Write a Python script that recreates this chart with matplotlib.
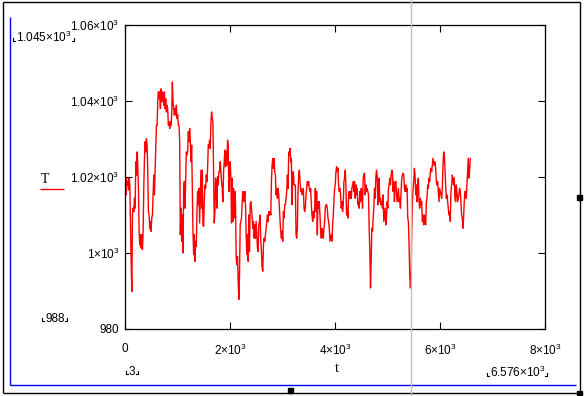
import matplotlib

matplotlib.use("Agg")
import matplotlib.pyplot as plt
from matplotlib.lines import Line2D
from matplotlib.patches import Rectangle
import numpy as np

# picture size in pixels (dpi 100)
W, H = 585, 396

# T(t), left to right, evenly spaced in t
T_PART1 = [
    1017.9, 1015.3, 1019.7, 1017.9, 1018.8, 1016.6, 1019.7, 1017.9, 1007.4, 997.8,
    989.9, 1010.0, 1011.8, 1010.9, 1014.4, 1011.8, 1024.0, 1020.5, 1026.6, 1023.1,
    1017.0, 1005.7, 1002.2, 1004.8, 1001.3, 1004.8, 1000.9, 1005.7, 1017.0, 1024.9,
    1029.3, 1026.6, 1030.1, 1028.4, 1021.4, 1010.9, 1010.0, 1006.5, 1008.3, 1005.7,
    1009.2, 1010.0, 1015.3, 1020.5, 1015.3, 1021.4, 1028.4, 1033.6, 1033.6, 1039.8,
    1042.4, 1040.6, 1042.4, 1038.0, 1043.2, 1039.8, 1042.4, 1041.5, 1038.9, 1042.4,
    1038.0, 1040.6, 1037.1, 1038.9, 1038.0, 1033.6, 1034.5, 1032.8, 1034.5, 1033.6,
    1036.3, 1045.0, 1039.8, 1038.0, 1036.3, 1038.0, 1036.3, 1038.9, 1035.4, 1036.3,
    1033.6, 1033.6, 1029.3,
]
T_PART2 = [
    1004.8, 1011.8, 1003.1, 1010.0, 1000.0, 1017.0, 1018.8, 1011.8, 1018.8, 1026.6,
    1025.8, 1026.6, 1031.9, 1029.3, 1032.8, 1029.3, 1024.0, 1028.4, 1016.2, 1005.7,
    999.6, 1004.8, 997.8, 1003.1, 1001.7, 1010.9, 1016.2, 1012.7, 1017.0, 1007.9,
    1015.3, 1021.8, 1011.8, 1021.8, 1007.4, 1007.0, 1013.5, 1017.9, 1017.0, 1020.5,
    1018.8, 1022.3, 1028.4, 1028.0, 1029.7, 1027.5, 1034.5, 1037.1, 1035.4, 1034.5,
    1020.5, 1007.9, 1010.9, 1019.7, 1017.9, 1011.8, 1020.1, 1017.9, 1021.4, 1021.4,
    1024.0, 1021.4, 1018.8, 1017.0, 1013.5, 1021.4, 1024.0, 1027.1, 1022.7, 1026.6,
    1023.1, 1029.7, 1028.0, 1016.2, 1021.4, 1024.0, 1019.7, 1007.9, 1019.7, 1008.3,
    1017.0, 1009.2, 1016.2, 1012.7, 998.7, 996.9, 999.1,
]
T_PART3 = [
    992.6, 987.8, 994.3, 1007.4, 1008.3, 1009.2, 1013.5, 1016.2, 1013.5, 1014.4,
    1016.2, 1012.7, 1004.8, 999.6, 1004.8, 997.8, 1010.0, 1000.4, 1012.7, 1013.5,
    1011.8, 1009.2, 1006.5, 1008.3, 1003.9, 1007.4, 1003.9, 1008.3, 1004.8, 1001.3,
    1000.4, 1007.4, 1008.3, 1010.0, 1003.1, 1000.4, 996.1, 995.2, 1002.2, 1003.9,
    1003.1, 1004.8, 1006.5, 1008.3, 1010.0, 1008.3, 1010.9, 1010.0, 1010.9, 1010.0,
    1018.8, 1023.1, 1024.9, 1022.3, 1024.9, 1021.4, 1020.5, 1015.3, 1017.0, 1014.4,
    1017.0, 1015.3, 1011.8, 1008.3, 1005.7, 1003.9, 1005.7, 1003.1, 1010.9, 1009.2,
    1012.7, 1012.7, 1014.4, 1016.2, 1020.5, 1017.0, 1026.6, 1025.8, 1027.5, 1024.0,
    1024.9, 1012.7, 1020.5, 1021.4, 1017.9, 1017.9, 1017.9,
]
T_PART4 = [
    1004.8, 1003.9, 1006.5, 1016.2, 1020.5, 1021.8, 1018.8, 1016.2, 1017.0, 1015.3,
    1016.2, 1017.0, 1011.8, 1010.9, 1011.8, 1015.3, 1017.0, 1018.8, 1017.9, 1018.8,
    1017.0, 1016.2, 1017.0, 1012.7, 1010.0, 1008.3, 1010.9, 1009.2, 1011.8, 1017.0,
    1010.9, 1016.2, 1004.8, 1013.5, 1011.8, 1013.5, 1010.0, 1005.7, 1003.9, 1006.5,
    1005.7, 1003.9, 1006.5, 1008.3, 1011.8, 1012.7, 1012.7, 1011.8, 1009.2, 1008.3,
    1006.5, 1003.1, 1003.9, 1004.8, 1003.1, 1007.4, 1010.0, 1013.5, 1017.0, 1017.9,
    1021.4, 1022.7, 1021.4, 1022.3, 1017.9, 1016.2, 1017.0, 1015.3, 1011.8, 1013.5,
    1010.9, 1012.7, 1018.8, 1019.7, 1021.8, 1017.9, 1010.0, 1011.8, 1009.2, 1015.3,
    1016.2, 1014.4, 1016.2, 1014.4, 1017.0, 1017.9, 1018.8,
]
T_PART5 = [
    1016.2, 1018.8, 1014.4, 1017.9, 1015.3, 1017.0, 1012.7, 1013.5, 1011.8, 1016.2,
    1013.5, 1017.0, 1016.2, 1011.8, 1019.7, 1020.5, 1021.0, 1015.3, 1017.9, 1016.2,
    1017.0, 1016.2, 1015.3, 1006.5, 1000.4, 990.8, 997.8, 1006.5, 1005.7, 1009.2,
    1011.8, 1017.0, 1014.4, 1019.7, 1021.8, 1020.5, 1012.7, 1018.8, 1019.7, 1013.5,
    1014.4, 1012.7, 1013.5, 1011.8, 1015.3, 1008.3, 1010.0, 1011.8, 1007.4, 1009.2,
    1013.5, 1011.8, 1017.0, 1017.9, 1019.7, 1017.9, 1020.5, 1021.8, 1021.4, 1016.2,
    1018.8, 1013.5, 1017.9, 1018.8, 1016.2, 1013.5, 1015.3, 1017.0, 1013.5, 1014.4,
    1011.8, 1016.2, 1019.7, 1020.5, 1021.0, 1020.5, 1017.0, 1016.2, 1017.9, 1016.2,
    1017.0, 1009.2, 1008.3, 1002.2, 994.3, 990.8, 992.6,
]
T_PART6 = [
    1006.1, 1013.5, 1017.0, 1018.8, 1022.3, 1020.5, 1015.3, 1017.9, 1013.5, 1018.8,
    1019.7, 1013.5, 1011.8, 1014.4, 1012.7, 1013.5, 1008.3, 1010.0, 1007.4, 1010.0,
    1008.3, 1007.4, 1013.5, 1014.4, 1017.9, 1017.0, 1019.7, 1018.8, 1021.4, 1022.3,
    1021.4, 1023.1, 1024.9, 1024.0, 1023.1, 1024.0, 1022.3, 1018.8, 1017.9, 1018.8,
    1016.2, 1013.5, 1017.0, 1016.2, 1015.3, 1014.4, 1017.0, 1023.1, 1026.6, 1025.8,
    1022.3, 1017.9, 1014.4, 1015.3, 1013.5, 1011.8, 1010.0, 1010.9, 1008.3, 1016.2,
    1017.9, 1020.5, 1019.7, 1017.9, 1019.7, 1014.4, 1013.5, 1017.9, 1016.2, 1013.5,
    1014.4, 1015.3, 1017.0, 1016.2, 1013.5, 1010.0, 1009.2, 1006.5, 1009.2, 1013.5,
    1016.2, 1016.2, 1014.4, 1017.9, 1021.4, 1024.9, 1019.7, 1021.4, 1024.9,
]
T_VALUES = T_PART1 + T_PART2 + T_PART3 + T_PART4 + T_PART5 + T_PART6

# range variable t := 3 .. 6576
T_FIRST = 3
T_LAST = 6576

X_TICKS = [0, 2000, 4000, 6000, 8000]
X_TICK_LABELS = ["0", "2×10$^3$", "4×10$^3$", "6×10$^3$", "8×10$^3$"]
Y_TICKS = [980, 1000, 1020, 1040, 1060]
Y_TICK_LABELS = ["980", "1×10$^3$", "1.02×10$^3$", "1.04×10$^3$", "1.06×10$^3$"]

plt.rcParams["font.family"] = ["Liberation Sans", "DejaVu Sans"]
plt.rcParams["mathtext.fontset"] = "custom"
plt.rcParams["mathtext.rm"] = "Liberation Sans"
plt.rcParams["mathtext.it"] = "Liberation Sans"
plt.rcParams["mathtext.default"] = "regular"
FS = 8.5


def fx(x):
    return x / W


def fy(y):
    return 1 - y / H


def hline(fig, x0, x1, y, color="black", lw=1.0):
    fig.add_artist(Line2D([fx(x0), fx(x1)], [fy(y), fy(y)], color=color, lw=lw,
                          transform=fig.transFigure, solid_capstyle="butt"))


def vline(fig, x, y0, y1, color="black", lw=1.0):
    fig.add_artist(Line2D([fx(x), fx(x)], [fy(y0), fy(y1)], color=color, lw=lw,
                          transform=fig.transFigure, solid_capstyle="butt"))


def placeholder(fig, x, y, text, ha="left"):
    # Mathcad style limit field: value between two small corner marks
    t = fig.text(fx(x), fy(y), text, fontsize=FS, ha=ha, va="baseline")
    fig.canvas.draw()
    bb = t.get_window_extent()
    left, right = bb.x0 - 3, bb.x1 + 2
    base = H - y + 1
    for xs, ys in (([left, left, left + 2], [base + 3, base, base]),
                   ([right - 2, right, right], [base, base, base + 3])):
        fig.add_artist(Line2D([v / W for v in xs], [v / H for v in ys],
                              color="black", lw=0.8, transform=fig.transFigure))


fig = plt.figure(figsize=(W / 100, H / 100), dpi=100)
fig.patch.set_facecolor("white")

ax = fig.add_axes([fx(125), fy(329), (545 - 125) / W, (329 - 25) / H])
t = np.linspace(T_FIRST, T_LAST, len(T_VALUES))
ax.plot(t, T_VALUES, color="#ff0000", lw=1.0)
ax.set_xlim(0, 8000)
ax.set_ylim(980, 1060)
ax.set_xticks(X_TICKS, X_TICK_LABELS)
ax.set_yticks(Y_TICKS, Y_TICK_LABELS)
ax.tick_params(axis="both", direction="in", length=5, width=0.8, labelsize=FS,
               top=True, right=True, colors="black")
ax.tick_params(axis="x", pad=10)
ax.tick_params(axis="y", pad=4)
for spine in ax.spines.values():
    spine.set_linewidth(0.9)

# region frame of the Mathcad plot
vline(fig, 3, 2, 393)
hline(fig, 3, 580, 2)
vline(fig, 580, 2, 393)
hline(fig, 3, 580, 393)
vline(fig, 10, 17, 385, color="#0000ff")
hline(fig, 10, 576, 385, color="#0000ff")
vline(fig, 411, 0, 396, color="#c0c0c0")
for x, y in ((577, 195), (577, 391), (288, 388)):
    fig.add_artist(Rectangle((fx(x), fy(y + 5)), 5 / W, 5 / H, color="black",
                             transform=fig.transFigure))

# axis names and limit fields
fig.text(fx(45), fy(183), "T", fontsize=FS + 1.5, family="Liberation Serif",
         ha="center", va="baseline")
hline(fig, 40, 64, 189, color="#ff0000")
fig.text(fx(337), fy(372), "t", fontsize=FS + 1.5, family="Liberation Serif",
         ha="center", va="baseline")
placeholder(fig, 16, 42, "1.045×10$^3$")
placeholder(fig, 45, 322, "988")
placeholder(fig, 129, 375, "3")
placeholder(fig, 490, 377, "6.576×10$^3$")

fig.savefig("out.png", dpi=100)
